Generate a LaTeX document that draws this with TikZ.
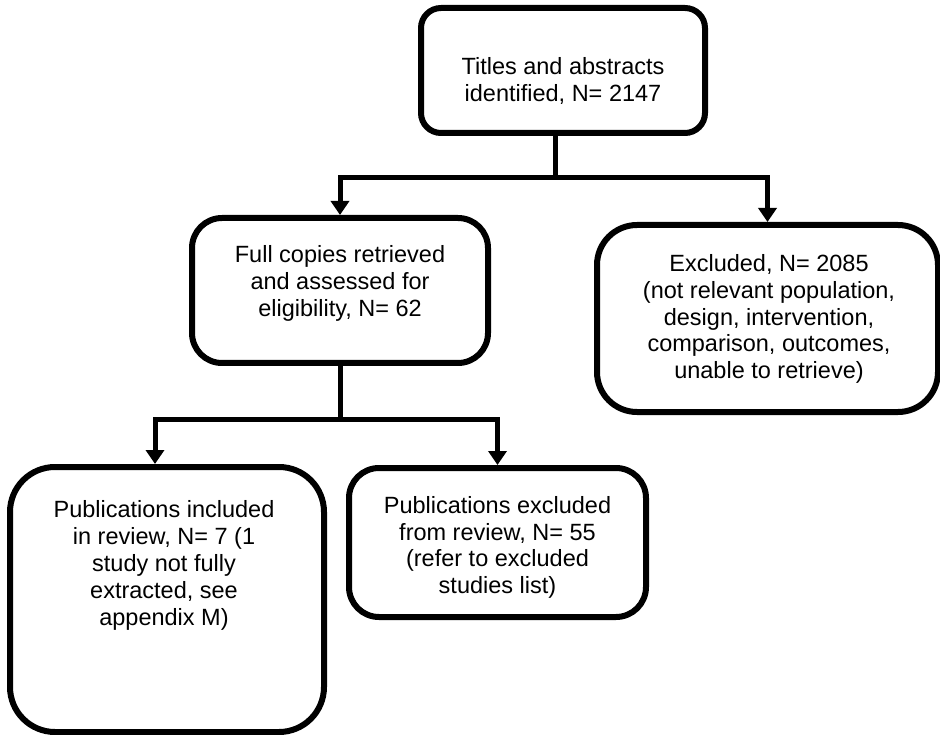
\documentclass[tikz,border=0pt]{standalone}
\usepackage{fontspec}
\setmainfont{Liberation Sans}
\usetikzlibrary{arrows.meta}
\begin{document}
\begin{tikzpicture}[x=1pt,y=-1pt,
  box/.style={draw=black, line width=6pt, fill=white, inner sep=0pt},
  lbl/.style={align=center, font=\fontsize{23.5}{26.8}\selectfont, inner sep=0pt},
  conn/.style={line width=5pt, line join=miter, line cap=butt},
  arr/.style={conn, -{Triangle[length=14pt,width=18pt]}}]
\useasboundingbox (0,0) rectangle (940,735);
% boxes
\node[box, rounded corners=20pt, minimum width=284pt, minimum height=125pt] (b1) at (563,70.5) {};
\node[box, rounded corners=30pt, minimum width=296pt, minimum height=145pt] (b2) at (340,290.5) {};
\node[box, rounded corners=40pt, minimum width=341pt, minimum height=187pt] (b3) at (767.5,318.5) {};
\node[box, rounded corners=45pt, minimum width=314pt, minimum height=265pt] (b4) at (167,599.5) {};
\node[box, rounded corners=30pt, minimum width=297pt, minimum height=149pt] (b5) at (497.5,542.5) {};
% texts
\node[lbl] (t1) at (563,81) {Titles and abstracts\\identified, N= 2147};
\node[lbl] (t2) at (340,283.5) {Full copies retrieved\\and assessed for\\eligibility, N= 62};
\node[lbl] (t3) at (769,319) {Excluded, N= 2085\\(not relevant population,\\design, intervention,\\comparison, outcomes,\\unable to retrieve)};
\node[lbl] (t4) at (164,565.5) {Publications included\\in review, N= 7 (1\\study not fully\\extracted, see\\appendix M)};
\node[lbl] (t5) at (497.5,547.5) {Publications excluded\\from review, N= 55\\(refer to excluded\\studies list)};
% connectors
\coordinate (j1) at (555,178);
\coordinate (j2) at (340,419);
\coordinate (a4) at (155,419);
\draw[conn] (b1.south -| j1) -- (j1);
\draw[arr] (j1) -| (b2.north);
\draw[arr] (j1) -| (b3.north);
\draw[conn] (b2.south) -- (j2);
\draw[arr] (j2) -| (b4.north -| a4);
\draw[arr] (j2) -| (b5.north);
\end{tikzpicture}
\end{document}
